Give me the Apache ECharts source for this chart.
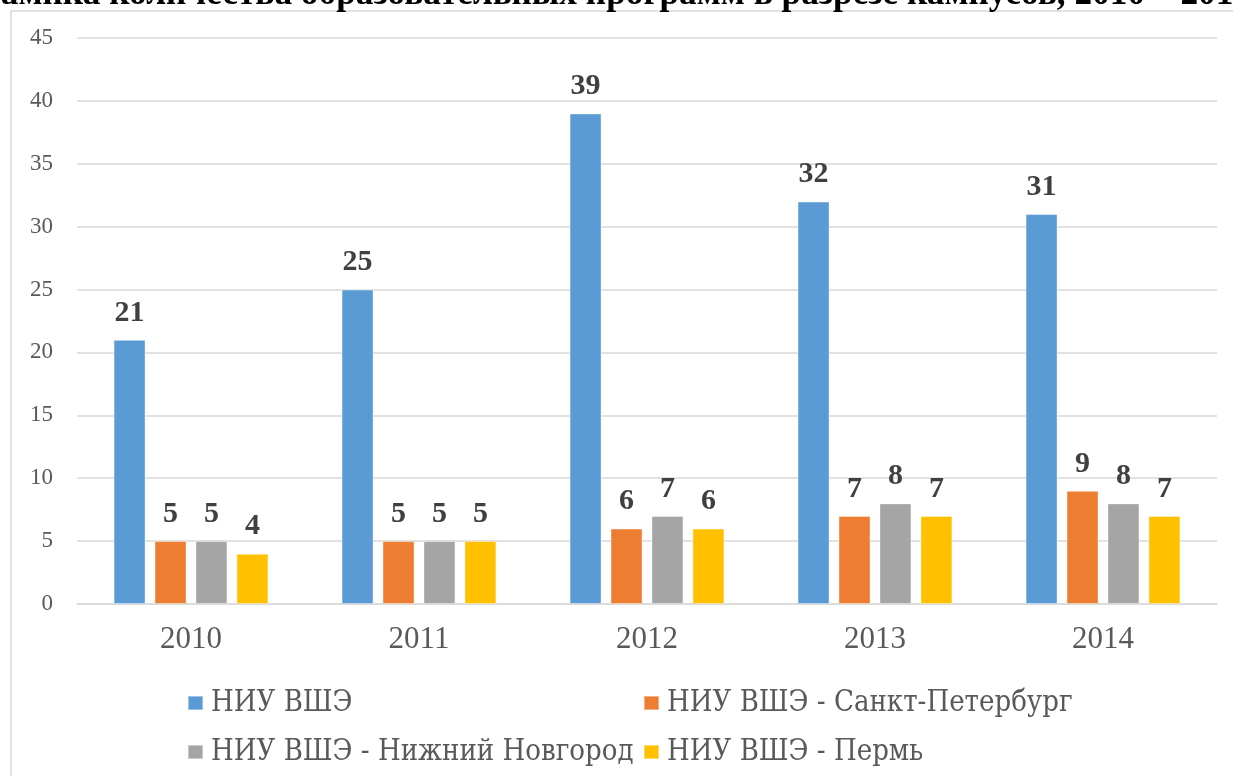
<!DOCTYPE html>
<html>
<head>
<meta charset="utf-8">
<script src="https://cdn.jsdelivr.net/npm/echarts@6/dist/echarts.min.js"></script>
<style>
  html, body { margin: 0; padding: 0; background: #fff; }
  #chart { width: 1233px; height: 776px; }
</style>
</head>
<body>
<div id="chart"></div>
<script>
  // данные
  const years = ["2010", "2011", "2012", "2013", "2014"];
  const seriesNames = [
    "НИУ ВШЭ",
    "НИУ ВШЭ - Санкт-Петербург",
    "НИУ ВШЭ - Нижний Новгород",
    "НИУ ВШЭ - Пермь",
  ];
  const hse = [21, 25, 39, 32, 31];
  const spb = [5, 5, 6, 7, 9];
  const nnov = [5, 5, 7, 8, 8];
  const perm = [4, 5, 6, 7, 7];
  const colors = ["#5B9BD5", "#ED7D31", "#A5A5A5", "#FFC000"];
  const titleText = "Динамика количества образовательных программ в разрезе кампусов, 2010 – 2014";

  const serif = "'Times New Roman', 'Liberation Serif', serif";
  // обычный кириллический шрифт с засечками
  const legendFont = "'DejaVu Serif Condensed', 'Liberation Serif', serif";
  const allValues = [hse, spb, nnov, perm];

  function legendAt(names, left) {
    return {
      data: names,
      left: left,
      orient: "vertical",
      top: 683,
      itemWidth: 15,
      itemHeight: 14,
      itemGap: 19,
      icon: "rect",
      textStyle: { fontFamily: legendFont, fontSize: 29, color: "#595959", lineHeight: 30, padding: [0, 0, 0, 3] },
    };
  }

  const myChart = echarts.init(document.getElementById("chart"));
  myChart.setOption({
    animation: false,
    color: colors,
    textStyle: { fontFamily: serif },
    graphic: [
      {
        type: "rect",
        shape: { x: 11, y: 11, width: 1400, height: 900 },
        style: { fill: "none", stroke: "#d9d9d9", lineWidth: 1.5 },
        silent: true,
      },
      {
        type: "text",
        x: 1251,
        y: 12,
        style: {
          text: titleText,
          fontFamily: serif,
          fontWeight: "bold",
          fontSize: 35.3,
          fill: "#000",
          textAlign: "right",
          textVerticalAlign: "bottom",
        },
        silent: true,
      },
    ],
    grid: { left: 77, right: 16, top: 38, bottom: 172 },
    legend: [
      legendAt([seriesNames[0], seriesNames[2]], 182),
      legendAt([seriesNames[1], seriesNames[3]], 638),
    ],
    xAxis: {
      type: "category",
      data: years,
      axisTick: { show: false },
      axisLine: { lineStyle: { color: "#d9d9d9", width: 1.5 } },
      axisLabel: { fontFamily: serif, fontSize: 31, color: "#595959", margin: 20 },
    },
    yAxis: {
      type: "value",
      min: 0,
      max: 45,
      interval: 5,
      axisLine: { show: false },
      axisTick: { show: false },
      splitLine: { lineStyle: { color: "#d9d9d9", width: 1.5 } },
      axisLabel: { fontFamily: serif, fontSize: 23, color: "#595959", margin: 24 },
    },
    series: seriesNames.map((name, i) => ({
      name: name,
      type: "bar",
      data: allValues[i],
      barWidth: 32,
      barGap: "28%",
      itemStyle: { color: colors[i], borderColor: "rgba(255,255,255,0.4)", borderWidth: 1 },
      label: {
        show: true,
        position: "top",
        distance: 12,
        fontFamily: serif,
        fontWeight: "bold",
        fontSize: 30,
        color: "#404040",
      },
    })),
  });
</script>
</body>
</html>
